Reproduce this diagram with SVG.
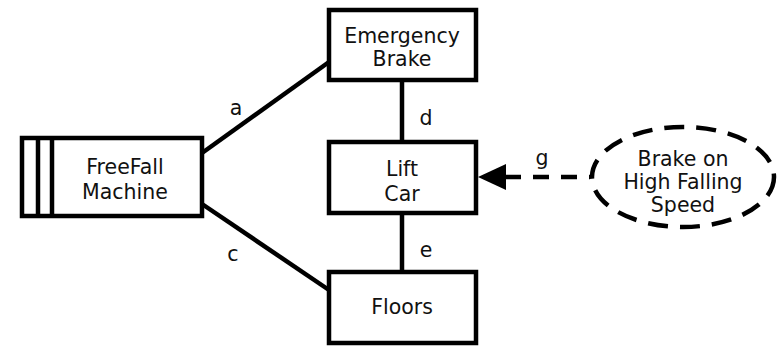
<svg xmlns="http://www.w3.org/2000/svg" width="780" height="347" viewBox="0 0 780 347">
<style>
.box{fill:#fff;stroke:#000;stroke-width:4.5}
.ln{stroke:#000;stroke-width:4.5;fill:none}
text{font-family:"DejaVu Sans",Verdana,sans-serif;font-size:20.5px;fill:#111;text-anchor:middle}
</style>
<g id="connectors">
<line class="ln" x1="202" y1="153" x2="329" y2="62"/>
<line class="ln" x1="202" y1="204" x2="329" y2="290"/>
<line class="ln" x1="402" y1="82" x2="402" y2="140"/>
<line class="ln" x1="402" y1="215" x2="402" y2="270"/>
<line class="ln" x1="505" y1="177" x2="590" y2="177" stroke-dasharray="16,12"/>
<polygon points="478,177 506,164 506,190" fill="#000"/>
<text x="236" y="115">a</text>
<text x="233" y="261">c</text>
<text x="426" y="125">d</text>
<text x="426" y="257">e</text>
<text x="542" y="165">g</text>
</g>
<g id="freefall">
<rect class="box" x="22" y="138" width="180" height="78"/>
<line class="ln" x1="38" y1="138" x2="38" y2="216"/>
<line class="ln" x1="52" y1="138" x2="52" y2="216"/>
<text x="125" y="174">FreeFall</text>
<text x="125" y="199">Machine</text>
</g>
<g id="emergency-brake">
<rect class="box" x="329" y="10" width="147" height="70"/>
<text x="402" y="43">Emergency</text>
<text x="402" y="66">Brake</text>
</g>
<g id="lift-car">
<rect class="box" x="329" y="142" width="147" height="71"/>
<text x="402" y="176">Lift</text>
<text x="402" y="201">Car</text>
</g>
<g id="floors">
<rect class="box" x="329" y="272" width="147" height="71"/>
<text x="402" y="314">Floors</text>
</g>
<g id="brake-high-speed">
<ellipse cx="683" cy="177" rx="91" ry="50" fill="#fff" stroke="#000" stroke-width="4.5" stroke-dasharray="20,12"/>
<text x="683" y="166">Brake on</text>
<text x="683" y="189">High Falling</text>
<text x="683" y="212">Speed</text>
</g>
</svg>
